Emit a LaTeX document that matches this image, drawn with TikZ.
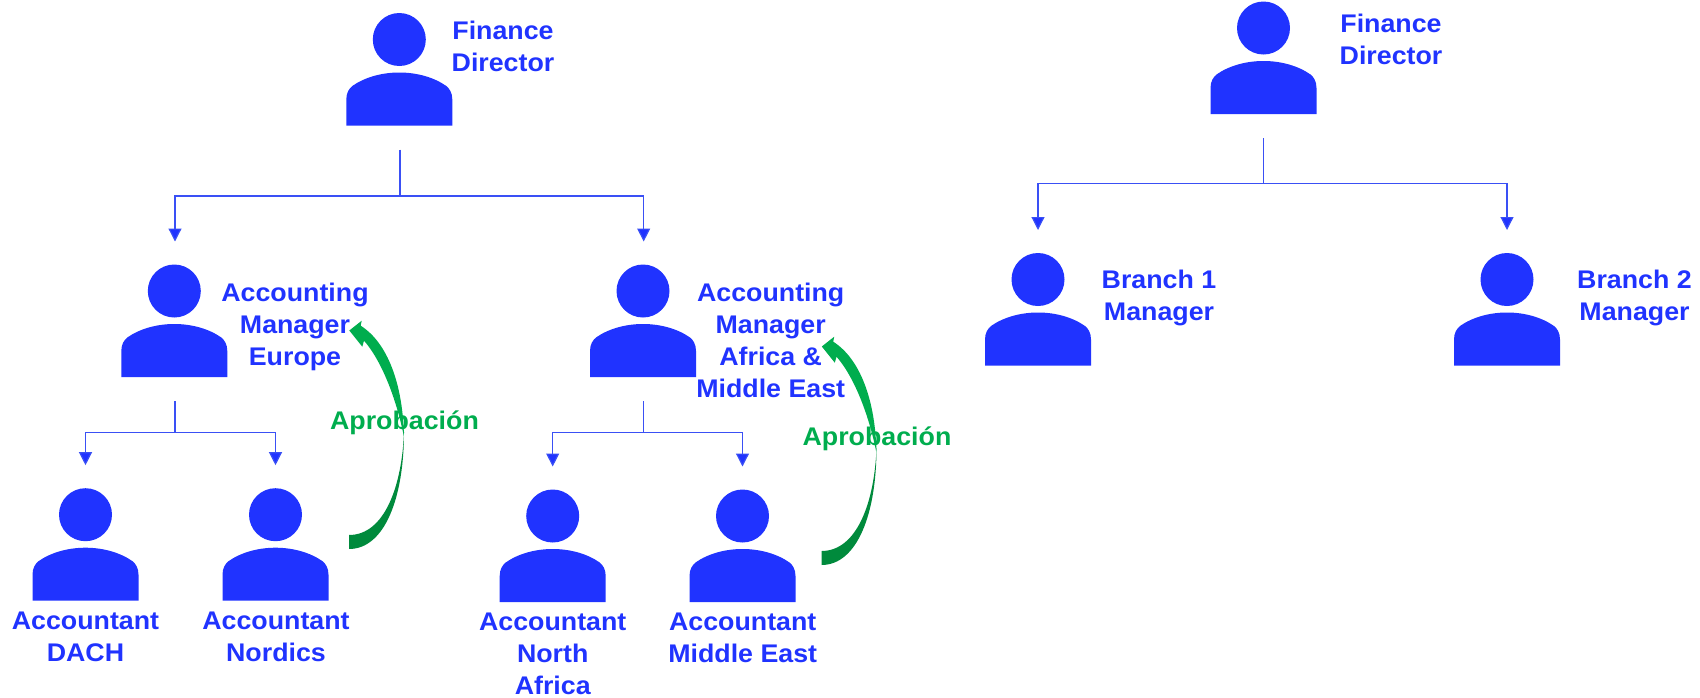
\documentclass[tikz,border=0pt]{standalone}
\usepackage{fontspec}
\setmainfont{Liberation Sans}[FakeStretch=1.05]
\usetikzlibrary{arrows.meta}
\definecolor{pblue}{HTML}{2033FF}
\definecolor{lblue}{HTML}{3A50F5}
\definecolor{glight}{HTML}{00AD4E}
\definecolor{gdark}{HTML}{008A3C}
\tikzset{
  headshape/.style={circle,fill=pblue,draw=none,minimum size=53pt,inner sep=0pt},
  bodyshape/.style={fill=pblue,draw=none},
  label/.style={text=pblue,font=\fontsize{25.5pt}{32pt}\selectfont\bfseries,align=center,anchor=north,inner sep=0pt},
  approval/.style={text=glight,font=\fontsize{25.5pt}{32pt}\selectfont\bfseries,anchor=base,inner sep=0pt},
  stem/.style={draw=lblue,line width=1.2pt},
  branch/.style={draw=lblue,line width=1.2pt,-{Triangle[length=13pt,width=13pt,fill=pblue]}},
}
\newcommand{\person}[3]{%
  \node[headshape] (#1) at (#2,#3) {};
  \fill[bodyshape,shift={(#2,#3)}] (-53,86) -- (-53,60)
     .. controls (-53,53) and (-50,49) .. (-47,46.5)
     .. controls (-35,38) and (-18,33) .. (0,33)
     .. controls (18,33) and (35,38) .. (47,46.5)
     .. controls (50,49) and (53,53) .. (53,60) -- (53,86) -- cycle;
  \coordinate (#1-out) at ([yshift=-110pt]#1.center);
  \coordinate (#1-in) at ([yshift=49.5pt]#1.center);
}
\newcommand{\approvalarrow}[2]{%
  \begin{scope}[shift={(#1,#2)}]
  \fill[gdark] (349,549) .. controls (385,549) and (404,497) .. (404,432)
     .. controls (402,485) and (385,535) .. (349,535) -- cycle;
  \fill[glight] (404,437) .. controls (403,385) and (388,343) .. (360.7,325.7)
     -- (361.7,320.7) -- (349.3,330.5) -- (362.3,346.7) -- (364,340.7)
     .. controls (381,360) and (396,397) .. (404,437) -- cycle;
  \end{scope}
}
\begin{document}
\begin{tikzpicture}[x=1pt,y=-1pt]
\useasboundingbox (0,0) rectangle (1700,697);
% left tree
\person{fdl}{399.3}{39.5}
\person{ame}{174.3}{291}
\person{ama}{643}{291}
\person{dach}{85.5}{514.7}
\person{nord}{275.5}{514.7}
\person{naf}{552.7}{516}
\person{mea}{742.5}{516}
% right tree
\person{fdr}{1263.5}{28}
\person{bone}{1038}{279.5}
\person{btwo}{1507}{279.5}
% bars
\coordinate (barl) at (400,196);
\coordinate (bare) at (175,432.7);
\coordinate (bara) at (643.7,432.7);
\coordinate (barr) at (1263.5,183.5);
\draw[stem] (fdl-out -| barl) -- (barl);
\draw[branch] (barl) -| (ame-in -| bare);
\draw[branch] (barl) -| (ama-in -| bara);
\draw[stem] (ame-out -| bare) -- (bare);
\draw[branch] (bare) -| (dach-in);
\draw[branch] (bare) -| (nord-in);
\draw[stem] (ama-out -| bara) -- (bara);
\draw[branch] (bara) -| (naf-in);
\draw[branch] (bara) -| (mea-in);
\draw[stem] (fdr-out) -- (barr);
\draw[branch] (barr) -| (bone-in);
\draw[branch] (barr) -| (btwo-in);
% arrows
\approvalarrow{0}{0}
\approvalarrow{472.5}{16}
% labels
\node[label] (tfdl) at (503,20.8) {Finance\\Director};
\node[label] (tame) at (295,282.8) {Accounting\\Manager\\Europe};
\node[label] (tama) at (770.7,282.8) {Accounting\\Manager\\Africa \&\\Middle East};
\node[label] (tdach) at (85.5,611.8) {Accountant\\DACH};
\node[label] (tnord) at (276,611.8) {Accountant\\Nordics};
\node[label] (tnaf) at (552.7,612.8) {Accountant\\North\\Africa};
\node[label] (tmea) at (742.7,612.8) {Accountant\\Middle East};
\node[label] (tfdr) at (1391,14.3) {Finance\\Director};
\node[label] (tbone) at (1159,270) {Branch 1\\Manager};
\node[label] (tbtwo) at (1634.5,270) {Branch 2\\Manager};
\node[approval] (apa) at (404.5,429) {Aprobación};
\node[approval] (apb) at (877,445) {Aprobación};
\end{tikzpicture}
\end{document}
